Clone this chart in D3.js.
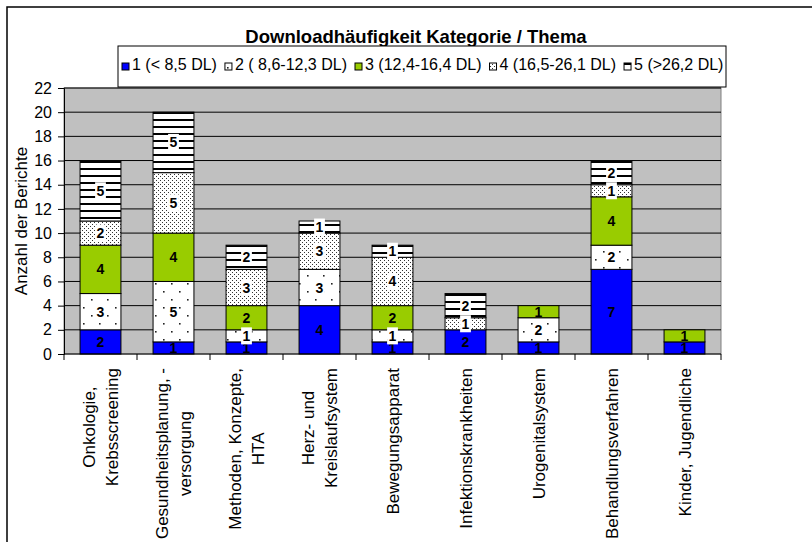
<!DOCTYPE html>
<html><head><meta charset="utf-8">
<script src="https://cdn.jsdelivr.net/npm/d3@7"></script>
<style>body{margin:0;background:#fff} text{font-family:Arial,"Liberation Sans",sans-serif}</style>
</head><body><svg id="c" width="812" height="542"></svg>
<script>
const categories = [["Onkologie,","Krebsscreening"],["Gesundheitsplanung, -","versorgung"],["Methoden, Konzepte,","HTA"],["Herz- und","Kreislaufsystem"],["Bewegungsapparat"],["Infektionskrankheiten"],["Urogenitalsystem"],["Behandlungsverfahren"],["Kinder, Jugendliche"]];
const seriesNames = ["1 (< 8,5 DL)","2 ( 8,6-12,3 DL)","3 (12,4-16,4 DL)","4 (16,5-26,1 DL)","5 (>26,2 DL)"];
const s1 = [2,1,1,4,1,2,1,7,1];
const s2 = [3,5,1,3,1,0,2,2,0];
const s3 = [4,4,2,0,2,0,1,4,1];
const s4 = [2,5,3,3,4,1,0,1,0];
const s5 = [5,5,2,1,1,2,0,2,0];
const yTicks = [0,2,4,6,8,10,12,14,16,18,20,22];
const chartTitle = "Downloadhäufigkeit Kategorie / Thema";
const yTitle = "Anzahl der Berichte";

const series = [s1,s2,s3,s4,s5];
const svg = d3.select("#c");
const defs = svg.append("defs");

// patterns
const p2 = defs.append("pattern").attr("id","p2").attr("patternUnits","userSpaceOnUse").attr("width",16).attr("height",16);
p2.append("rect").attr("width",16).attr("height",16).attr("fill","#fff");
p2.append("rect").attr("x",3).attr("y",3).attr("width",1.6).attr("height",1.6).attr("fill","#222");
p2.append("rect").attr("x",11).attr("y",11).attr("width",1.6).attr("height",1.6).attr("fill","#222");
const p4 = defs.append("pattern").attr("id","p4").attr("patternUnits","userSpaceOnUse").attr("width",4).attr("height",4);
p4.append("rect").attr("width",4).attr("height",4).attr("fill","#fff");
p4.append("rect").attr("x",0).attr("y",0).attr("width",1).attr("height",1).attr("fill","#333");
p4.append("rect").attr("x",2).attr("y",2).attr("width",1).attr("height",1).attr("fill","#333");
const p5 = defs.append("pattern").attr("id","p5").attr("patternUnits","userSpaceOnUse").attr("width",8).attr("height",7);
p5.append("rect").attr("width",8).attr("height",7).attr("fill","#fff");
p5.append("rect").attr("y",0).attr("width",8).attr("height",2).attr("fill","#000");

const fills = ["#0000FF","url(#p2)","#99CC00","url(#p4)","url(#p5)"];
const labelBg = [false,true,false,true,true];

const plot = {l:64, r:721, t:88, b:354};

// outer frame
svg.append("rect").attr("x",7).attr("y",7).attr("width",900).attr("height",900)
  .attr("fill","none").attr("stroke","#000").attr("stroke-width",1.5);

const x = d3.scaleBand().domain(d3.range(categories.length)).range([plot.l, plot.r]).paddingInner(0.44).paddingOuter(0.22);
const y = d3.scaleLinear().domain([0,22]).range([plot.b, plot.t]);

// plot background
svg.append("rect").attr("x",plot.l).attr("y",plot.t).attr("width",plot.r-plot.l).attr("height",plot.b-plot.t)
  .attr("fill","#C0C0C0").attr("stroke","#808080");

// gridlines
svg.append("g").selectAll("line").data(yTicks.filter(d=>d>0)).join("line")
  .attr("x1",plot.l).attr("x2",plot.r).attr("y1",d=>y(d)).attr("y2",d=>y(d))
  .attr("stroke","#000").attr("stroke-width",1);

// y axis
const yAxis = svg.append("g").attr("transform",`translate(${plot.l},0)`)
  .call(d3.axisLeft(y).tickValues(yTicks).tickSize(6).tickPadding(6).tickFormat(d3.format("d")));
yAxis.select(".domain").attr("stroke","#000");
yAxis.selectAll("text").attr("font-size",16).attr("fill","#000").attr("font-family","Arial, 'Liberation Sans', sans-serif");

// stacked data
const stackData = categories.map((c,i)=>{ const o={i}; series.forEach((s,k)=>o["s"+k]=s[i]); return o; });
const stacked = d3.stack().keys(series.map((s,k)=>"s"+k))(stackData);

const gBars = svg.append("g");
stacked.forEach((layer,k)=>{
  gBars.selectAll(null).data(layer.filter(d=>d[1]-d[0]>0)).join("rect")
    .attr("x",d=>x(d.data.i)).attr("width",x.bandwidth())
    .attr("y",d=>y(d[1])).attr("height",d=>y(d[0])-y(d[1]))
    .attr("fill",fills[k]).attr("stroke","#000").attr("stroke-width",1);
});

// x axis
svg.append("line").attr("x1",plot.l).attr("x2",plot.r).attr("y1",plot.b).attr("y2",plot.b).attr("stroke","#000");
const step = x.step();
svg.append("g").selectAll("line").data(d3.range(categories.length+1)).join("line")
  .attr("x1",d=>plot.l+d*step).attr("x2",d=>plot.l+d*step).attr("y1",plot.b).attr("y2",plot.b+6)
  .attr("stroke","#000");

// value labels
const gLab = svg.append("g");
stacked.forEach((layer,k)=>{
  layer.filter(d=>d[1]-d[0]>0).forEach(d=>{
    const cx = x(d.data.i)+x.bandwidth()/2;
    const cy = (y(d[0])+y(d[1]))/2;
    const g = gLab.append("g");
    const t = g.append("text").attr("x",cx).attr("y",cy).attr("dy","0.36em")
      .attr("text-anchor","middle").attr("font-size",14).attr("font-weight","bold").text(d[1]-d[0]);
    if (labelBg[k]) {
      const w = t.node().getComputedTextLength()+3;
      g.insert("rect","text").attr("x",cx-w/2).attr("y",cy-8.5).attr("width",w).attr("height",17).attr("fill","#fff");
    }
  });
});

// x labels
const gX = svg.append("g");
categories.forEach((lines,i)=>{
  const cx = x(i)+x.bandwidth()/2;
  const g = gX.append("g").attr("transform",`translate(${cx},368) rotate(-90)`);
  const ts = lines.map(l=>g.append("text").attr("font-size",17).attr("text-anchor","middle").text(l));
  const L = d3.max(ts.map(t=>t.node().getComputedTextLength()));
  const n = lines.length;
  ts.forEach((t,j)=>t.attr("x",-L/2).attr("y",6 + (j-(n-1)/2)*23));
});

// y title
svg.append("text").attr("transform",`translate(27,${(plot.t+plot.b)/2}) rotate(-90)`)
  .attr("text-anchor","middle").attr("font-size",17).text(yTitle);

// title
svg.append("text").attr("x",416).attr("y",43).attr("text-anchor","middle")
  .attr("font-size",18.5).attr("font-weight","bold").text(chartTitle);

// legend
const leg = {x:118, y:46, w:608, h:41};
svg.append("rect").attr("x",leg.x).attr("y",leg.y).attr("width",leg.w).attr("height",leg.h)
  .attr("fill","#fff").attr("stroke","#000").attr("stroke-width",1);
let lx = leg.x+4;
seriesNames.forEach((name,k)=>{
  svg.append("rect").attr("x",lx).attr("y",leg.y+17).attr("width",7).attr("height",7)
    .attr("fill",fills[k]).attr("stroke","#000").attr("stroke-width",1);
  const t = svg.append("text").attr("x",lx+10).attr("y",leg.y+23.5).attr("font-size",16).text(name);
  lx += 10 + t.node().getComputedTextLength() + 8;
});
</script></body></html>
